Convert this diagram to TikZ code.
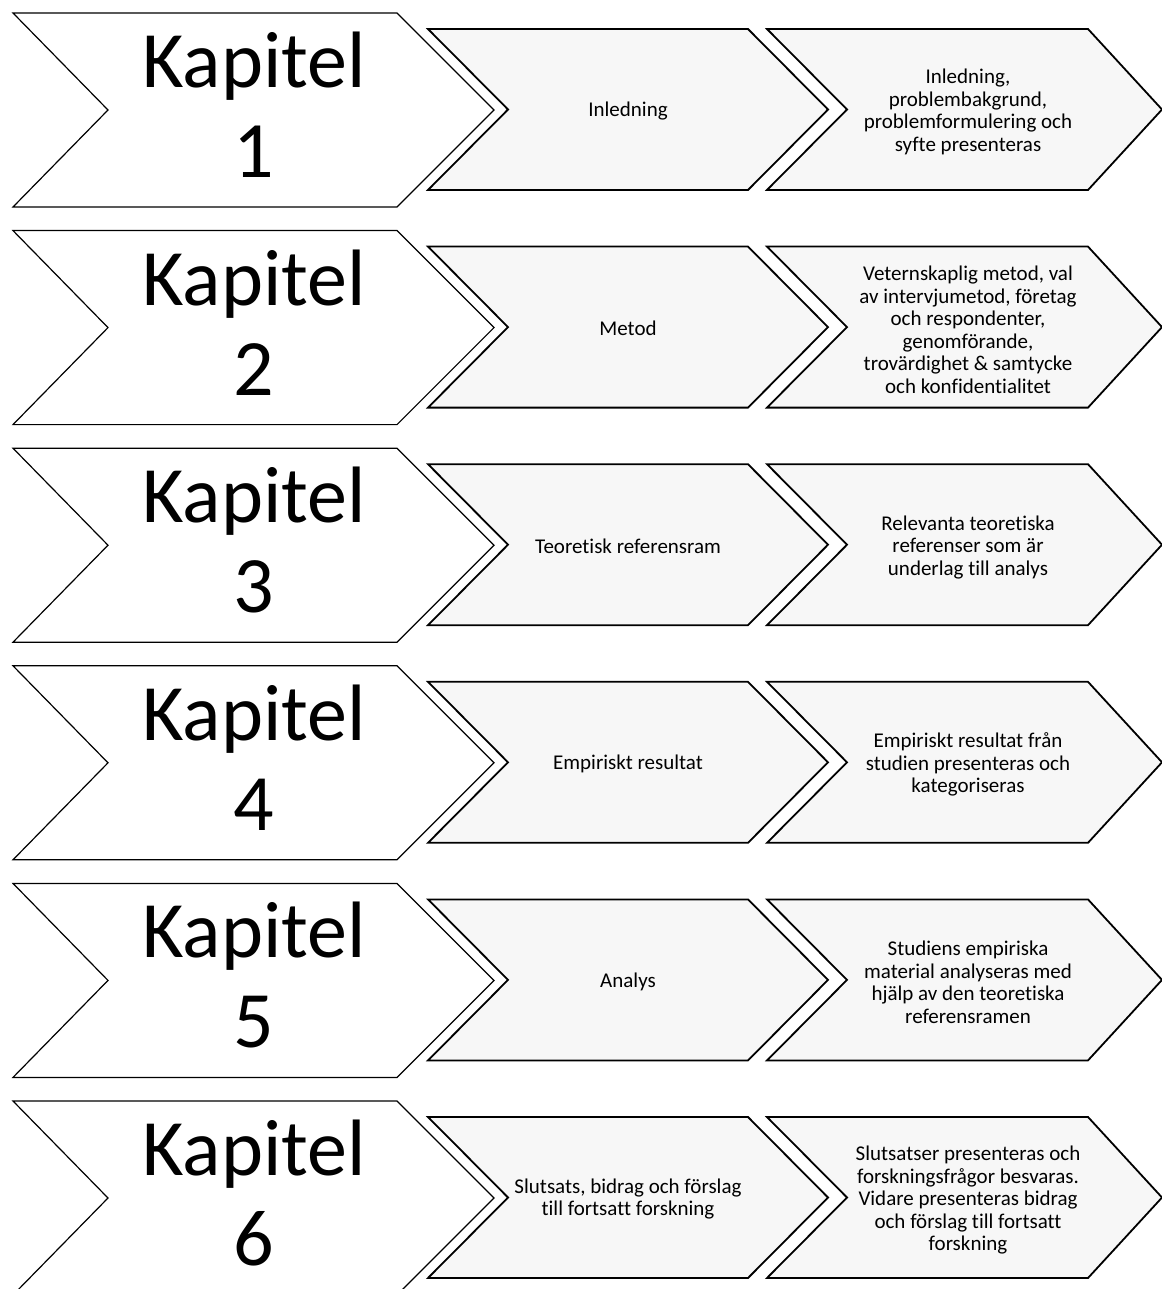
\documentclass[tikz,border=0pt]{standalone}
\usepackage{fontspec}
\setmainfont{Carlito}[Ligatures=NoCommon]

\tikzset{
  kapitelpil/.style={draw=black, line width=1.2pt, fill=white},
  innehallspil/.style={draw=black, line width=1.8pt, fill=black!3},
  kapiteltext/.style={font=\fontsize{80}{90}\selectfont, align=center, inner sep=0pt},
  piltext/.style={font=\fontsize{21}{22.5}\selectfont, align=center, inner sep=0pt},
}

\begin{document}
\begin{tikzpicture}[x=1pt, y=-1pt]
  \useasboundingbox (0,0) rectangle (1161,1289);

  % Pilarna, en rad per kapitel
  \foreach \r in {0,...,5}{
    \pgfmathsetmacro\yk{13+217.6*\r}
    \pgfmathsetmacro\yp{29+217.6*\r}
    \draw[kapitelpil] (13,\yk) -- ++(384,0) -- ++(97,97) -- ++(-97,97) -- ++(-384,0) -- ++(95,-97) -- cycle;
    \draw[innehallspil] (428,\yp) -- ++(320,0) -- ++(80,80.5) -- ++(-80,80.5) -- ++(-320,0) -- ++(80,-80.5) -- cycle;
    \draw[innehallspil] (767,\yp) -- ++(321,0) -- ++(74,80.5) -- ++(-74,80.5) -- ++(-321,0) -- ++(80,-80.5) -- cycle;
  }

  % Kapitelnummer
  \node[kapiteltext] (k1) at (254,105) {Kapitel\\1};
  \node[kapiteltext] (k2) at (254,322.6) {Kapitel\\2};
  \node[kapiteltext] (k3) at (254,540.2) {Kapitel\\3};
  \node[kapiteltext] (k4) at (254,757.8) {Kapitel\\4};
  \node[kapiteltext] (k5) at (254,975.4) {Kapitel\\5};
  \node[kapiteltext] (k6) at (254,1193) {Kapitel\\6};

  % Rubriker
  \node[piltext] (m1) at (628,111) {Inledning};
  \node[piltext] (m2) at (628,328.6) {Metod};
  \node[piltext] (m3) at (628,546.2) {Teoretisk referensram};
  \node[piltext] (m4) at (628,763.8) {Empiriskt resultat};
  \node[piltext] (m5) at (628,981.4) {Analys};
  \node[piltext] (m6) at (628,1199) {Slutsats, bidrag och förslag\\till fortsatt forskning};

  % Beskrivningar
  \node[piltext] (b1) at (968,112) {Inledning,\\problembakgrund,\\problemformulering och\\syfte presenteras};
  \node[piltext] (b2) at (968,329.6) {Veternskaplig metod, val\\av intervjumetod, företag\\och respondenter,\\genomförande,\\trovärdighet \& samtycke\\och konfidentialitet};
  \node[piltext] (b3) at (968,547.2) {Relevanta teoretiska\\referenser som är\\underlag till analys};
  \node[piltext] (b4) at (968,764.8) {Empiriskt resultat från\\studien presenteras och\\kategoriseras};
  \node[piltext] (b5) at (968,982.4) {Studiens empiriska\\material analyseras med\\hjälp av den teoretiska\\referensramen};
  \node[piltext] (b6) at (968,1200) {Slutsatser presenteras och\\forskningsfrågor besvaras.\\Vidare presenteras bidrag\\och förslag till fortsatt\\forskning};
\end{tikzpicture}
\end{document}
